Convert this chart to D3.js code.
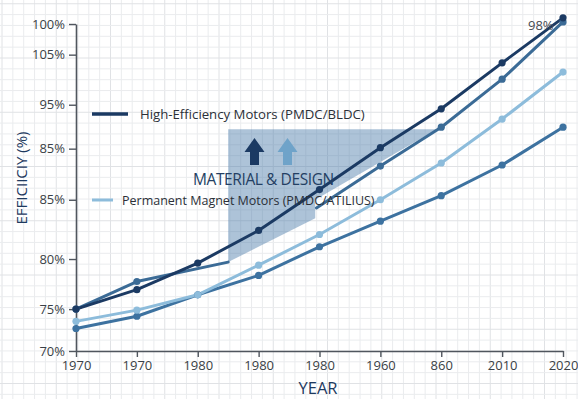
<!DOCTYPE html>
<html>
<head>
<meta charset="utf-8">
<script src="https://cdn.jsdelivr.net/npm/d3@7"></script>
<style>
  html, body { margin: 0; padding: 0; background: #ffffff; }
  svg { display: block; font-family: "Open Sans", "Noto Sans", sans-serif; }
</style>
</head>
<body>
<svg id="chart" width="578" height="399"></svg>
<script>
// Category ticks along the year axis (positions 0..8)
const yearLabels = ["1970", "1970", "1980", "1980", "1980", "1960", "860", "2010", "2020"];

// Efficiency axis: tick positions and their printed labels
const effTickValues = [70, 74.1, 79.0, 84.8, 89.8, 94.1, 99.0, 102];
const effTickLabels = ["70%", "75%", "80%", "85%", "85%", "95%", "105%", "100%"];

// Series values (index along the year axis, efficiency)
const highEfficiency = [
  [0, 74.1], [1, 76.0], [2, 78.6], [3, 81.8], [4, 85.8],
  [5, 89.9], [6, 93.7], [7, 98.2], [8, 102.6]
];
const pmdcEarly = [[0, 74.1], [1, 76.8], [2.5, 78.7]];
const pmdcLate = [[3.95, 84.0], [5, 88.1], [6, 91.9], [7, 96.6], [8, 102.2]];
const permanentMagnet = [
  [0, 72.9], [1, 74.0], [2, 75.5], [3, 78.4], [4, 81.4],
  [5, 84.8], [6, 88.4], [7, 92.7], [8, 97.3]
];
const standardMotors = [
  [0, 72.2], [1, 73.4], [2, 75.5], [3, 77.4], [4, 80.2],
  [5, 82.7], [6, 85.2], [7, 88.2], [8, 91.9]
];

// Shaded "material & design" band
const designBand = [[2.5, 91.7], [5.93, 91.7], [3.93, 84.8], [3.93, 83.0], [2.5, 78.7]];

const endLabel = { x: 8, y: 102.6, text: "98%" };

const svg = d3.select("#chart");
const W = 578, H = 399;

const x = d3.scaleLinear().domain([0, 8]).range([76, 563]);
const y = d3.scaleLinear().domain([70, 102]).range([351, 24]);

// background grid paper
const grid = svg.append("g");
const step = 10.85;
d3.range(2, W, step).forEach((gx, i) => {
  grid.append("line").attr("x1", gx).attr("x2", gx).attr("y1", 0).attr("y2", H)
    .attr("stroke", i % 5 === 0 ? "#e0e2e5" : "#eaecee").attr("stroke-width", 1);
});
d3.range(3.75, H, step).forEach((gy, i) => {
  grid.append("line").attr("x1", 0).attr("x2", W).attr("y1", gy).attr("y2", gy)
    .attr("stroke", i % 5 === 0 ? "#e0e2e5" : "#eaecee").attr("stroke-width", 1);
});

// shaded band
svg.append("path")
  .attr("d", d3.line().x(d => x(d[0])).y(d => y(d[1]))(designBand) + "Z")
  .attr("fill", "#4a7aa8").attr("fill-opacity", 0.45);

// axes
const axisColor = "#50565e";
const yAxis = svg.append("g").attr("transform", `translate(${x(0)},0)`)
  .call(d3.axisLeft(y).tickValues(effTickValues)
    .tickFormat((d, i) => effTickLabels[i]).tickSize(7).tickSizeOuter(0));
const xAxis = svg.append("g").attr("transform", `translate(0,${y(70)})`)
  .call(d3.axisBottom(x).tickValues(d3.range(0, 9))
    .tickFormat((d, i) => yearLabels[i]).tickSize(6).tickSizeOuter(0));
[yAxis, xAxis].forEach(g => {
  g.select(".domain").attr("stroke", axisColor).attr("stroke-width", 1.6);
  g.selectAll(".tick line").attr("stroke", axisColor).attr("stroke-width", 1.4);
  g.selectAll(".tick text").attr("fill", "#3a3f46")
    .attr("font-family", "'Open Sans', sans-serif").attr("font-size", 13);
});
yAxis.selectAll(".tick text").attr("x", -11);
xAxis.selectAll(".tick text").attr("y", 10);

// series
const line = d3.line().x(d => x(d[0])).y(d => y(d[1]));
const series = [
  { data: standardMotors, color: "#3d72a0", marker: true },
  { data: permanentMagnet, color: "#8dbcdb", marker: true },
  { data: pmdcEarly, color: "#3b6b96", marker: false },
  { data: pmdcLate, color: "#3b6b96", marker: true },
  { data: highEfficiency, color: "#1b3a63", marker: true }
];
series.forEach(s => {
  svg.append("path").attr("d", line(s.data)).attr("fill", "none")
    .attr("stroke", s.color).attr("stroke-width", 3)
    .attr("stroke-linejoin", "round").attr("stroke-linecap", "round");
});
series.forEach(s => {
  const pts = s.marker ? s.data.slice(1) : s.data.slice(0, 2);
  svg.append("g").selectAll("circle").data(pts).join("circle")
    .attr("cx", d => x(d[0])).attr("cy", d => y(d[1]))
    .attr("r", 3.6).attr("fill", s.color);
});
svg.append("g").selectAll("circle").data([standardMotors[0], permanentMagnet[0], highEfficiency[0]])
  .join("circle")
  .attr("cx", d => x(d[0])).attr("cy", d => y(d[1]))
  .attr("r", 3.6).attr("fill", (d, i) => ["#3d72a0", "#8dbcdb", "#1b3a63"][i]);

// end label
svg.append("text").attr("x", x(endLabel.x) - 35).attr("y", 30)
  .attr("font-size", 13).attr("fill", "#454b52").text(endLabel.text);

// arrows inside the band
function arrow(cx, color) {
  const top = 138, headBase = 152, bottom = 165, hw = 10, sw = 4.5;
  svg.append("path")
    .attr("d", `M${cx},${top} L${cx + hw},${headBase} L${cx + sw},${headBase} L${cx + sw},${bottom}
                L${cx - sw},${bottom} L${cx - sw},${headBase} L${cx - hw},${headBase} Z`)
    .attr("fill", color);
}
arrow(254.5, "#1b3a63");
arrow(287.5, "#6fa3c9");

svg.append("text").attr("x", 193).attr("y", 185)
  .attr("font-size", 15.5).attr("letter-spacing", -0.4).attr("fill", "#243f63")
  .text("MATERIAL & DESIGN");

// legend
svg.append("line").attr("x1", 92).attr("x2", 128).attr("y1", 114).attr("y2", 114)
  .attr("stroke", "#1b3a63").attr("stroke-width", 3.5);
svg.append("text").attr("x", 140).attr("y", 118.5)
  .attr("font-size", 13.2).attr("fill", "#2b3038").text("High-Efficiency Motors (PMDC/BLDC)");
svg.append("line").attr("x1", 92).attr("x2", 113).attr("y1", 200).attr("y2", 200)
  .attr("stroke", "#8dbcdb").attr("stroke-width", 3);
svg.append("text").attr("x", 122).attr("y", 204.5)
  .attr("font-size", 12.5).attr("fill", "#2b3038").text("Permanent Magnet Motors (PMDC/ATILIUS)");

// axis titles
svg.append("text").attr("transform", "translate(27,178) rotate(-90)")
  .attr("text-anchor", "middle").attr("font-size", 15).attr("fill", "#1e3a5f")
  .text("EFFICIICIY (%)");
svg.append("text").attr("x", 318).attr("y", 394).attr("text-anchor", "middle")
  .attr("font-size", 16.5).attr("fill", "#1e3a5f").text("YEAR");
</script>
</body>
</html>
